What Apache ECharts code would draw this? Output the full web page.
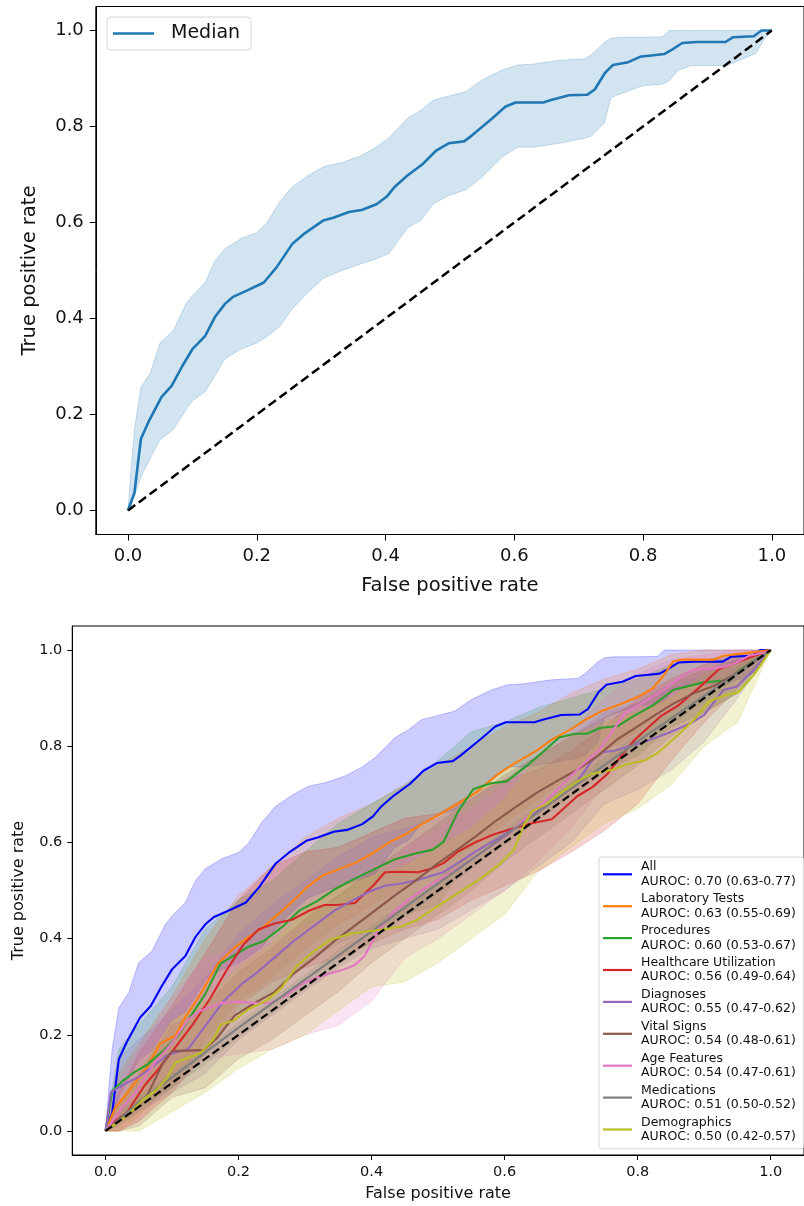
<!DOCTYPE html>
<html>
<head>
<meta charset="utf-8">
<script src="https://cdn.jsdelivr.net/npm/echarts@6/dist/echarts.min.js"></script>
<style>
html,body{margin:0;padding:0;background:#fff;}
#chart{width:804px;height:1206px;}
</style>
</head>
<body>
<div id="chart"></div>
<script>
// ---------- DATA ----------
const tickValues = [0, 0.2, 0.4, 0.6, 0.8, 1.0];

const categories = ['All', 'Laboratory Tests', 'Procedures', 'Healthcare Utilization', 'Diagnoses',
  'Vital Signs', 'Age Features', 'Medications', 'Demographics'];
const aurocLabels = ['AUROC: 0.70 (0.63-0.77)', 'AUROC: 0.63 (0.55-0.69)', 'AUROC: 0.60 (0.53-0.67)',
  'AUROC: 0.56 (0.49-0.64)', 'AUROC: 0.55 (0.47-0.62)', 'AUROC: 0.54 (0.48-0.61)',
  'AUROC: 0.54 (0.47-0.61)', 'AUROC: 0.51 (0.50-0.52)', 'AUROC: 0.50 (0.42-0.57)'];
const colors = ['#0000ff', '#ff7f0e', '#2ca02c', '#d62728', '#9467bd', '#8c564b', '#e377c2', '#7f7f7f', '#bcbd22'];

// Median (All) ROC curve
const medianX = [0,0.01,0.02,0.032,0.052,0.068,0.084,0.10,0.12,0.135,0.151,0.163,0.183,0.211,0.231,0.255,0.275,0.303,0.319,0.343,0.363,0.386,0.402,0.414,0.434,0.458,0.478,0.498,0.522,0.534,0.566,0.586,0.602,0.645,0.657,0.685,0.713,0.725,0.741,0.753,0.777,0.797,0.813,0.833,0.845,0.861,0.884,0.928,0.940,0.972,0.984,1];
const medianY = [0,0.037,0.149,0.185,0.236,0.26,0.30,0.336,0.364,0.403,0.431,0.445,0.457,0.475,0.507,0.555,0.578,0.604,0.610,0.622,0.626,0.638,0.654,0.674,0.698,0.722,0.749,0.765,0.769,0.781,0.817,0.841,0.850,0.850,0.855,0.865,0.866,0.877,0.912,0.928,0.934,0.946,0.948,0.951,0.960,0.974,0.976,0.976,0.986,0.988,1.0,1.0];
// Median band
const allBandX = [0,0.005,0.01,0.02,0.035,0.05,0.07,0.09,0.1,0.12,0.135,0.15,0.175,0.2,0.215,0.235,0.255,0.28,0.305,0.33,0.36,0.385,0.405,0.435,0.455,0.475,0.5,0.525,0.55,0.58,0.605,0.63,0.67,0.71,0.72,0.74,0.75,0.765,0.8,0.83,0.84,0.855,0.875,0.93,0.96,0.975,0.99,1];
const allBandHi = [0,0.09,0.17,0.256,0.288,0.35,0.374,0.43,0.447,0.475,0.52,0.545,0.566,0.579,0.598,0.642,0.674,0.698,0.717,0.724,0.738,0.756,0.776,0.818,0.834,0.855,0.864,0.873,0.897,0.917,0.928,0.930,0.938,0.941,0.950,0.975,0.984,0.986,0.986,0.987,1.0,1,1,1,1,1,1,1];
const allBandLo = [0,0.01,0.03,0.07,0.11,0.148,0.168,0.21,0.228,0.248,0.28,0.315,0.336,0.349,0.362,0.382,0.42,0.455,0.485,0.499,0.513,0.524,0.535,0.59,0.604,0.64,0.657,0.668,0.695,0.735,0.757,0.757,0.765,0.776,0.78,0.808,0.86,0.868,0.885,0.888,0.895,0.917,0.927,0.927,0.944,0.952,0.985,1];

// Feature group curves
const labX = [0,0.014,0.033,0.063,0.082,0.105,0.12,0.143,0.169,0.192,0.215,0.234,0.253,0.272,0.291,0.302,0.325,0.352,0.375,0.401,0.428,0.451,0.473,0.504,0.534,0.557,0.591,0.618,0.648,0.671,0.698,0.72,0.747,0.777,0.804,0.823,0.838,0.853,0.865,0.914,0.929,0.952,1];
const labY = [0,0.047,0.079,0.134,0.182,0.198,0.237,0.285,0.348,0.379,0.403,0.42,0.443,0.466,0.490,0.506,0.530,0.545,0.557,0.577,0.601,0.617,0.636,0.660,0.684,0.704,0.743,0.767,0.791,0.814,0.834,0.854,0.874,0.889,0.905,0.921,0.945,0.976,0.98,0.98,0.988,0.992,1];
const procX = [0,0.01,0.025,0.044,0.063,0.086,0.109,0.131,0.15,0.173,0.192,0.215,0.238,0.268,0.291,0.318,0.344,0.371,0.405,0.435,0.466,0.492,0.508,0.53,0.553,0.58,0.603,0.633,0.66,0.682,0.705,0.724,0.743,0.77,0.793,0.823,0.853,0.876,0.899,0.937,0.952,1];
const procY = [0,0.083,0.103,0.123,0.138,0.166,0.198,0.245,0.285,0.348,0.364,0.383,0.395,0.427,0.458,0.478,0.502,0.522,0.545,0.565,0.577,0.585,0.601,0.664,0.711,0.723,0.727,0.759,0.791,0.818,0.826,0.826,0.838,0.842,0.862,0.885,0.917,0.925,0.933,0.937,0.957,1];
const hcuX = [0,0.014,0.033,0.059,0.078,0.105,0.131,0.158,0.181,0.207,0.23,0.253,0.28,0.306,0.329,0.348,0.375,0.405,0.42,0.443,0.47,0.489,0.508,0.53,0.557,0.584,0.61,0.641,0.671,0.69,0.709,0.732,0.755,0.777,0.796,0.815,0.834,0.861,0.895,0.922,0.952,1];
const hcuY = [0,0.02,0.04,0.095,0.126,0.174,0.221,0.277,0.332,0.387,0.419,0.431,0.439,0.458,0.470,0.470,0.474,0.514,0.538,0.539,0.538,0.545,0.557,0.581,0.601,0.617,0.628,0.640,0.648,0.672,0.696,0.715,0.743,0.783,0.814,0.838,0.862,0.885,0.925,0.960,0.976,1];
const diagX = [0,0.008,0.025,0.048,0.071,0.093,0.124,0.147,0.177,0.207,0.23,0.257,0.283,0.314,0.344,0.375,0.397,0.42,0.443,0.47,0.489,0.508,0.534,0.561,0.591,0.618,0.648,0.679,0.709,0.732,0.747,0.766,0.806,0.845,0.88,0.9,0.929,0.949,0.974,1];
const diagY = [0,0.08,0.095,0.111,0.134,0.158,0.17,0.213,0.269,0.308,0.332,0.364,0.395,0.427,0.458,0.482,0.498,0.510,0.514,0.522,0.530,0.538,0.561,0.585,0.609,0.632,0.664,0.696,0.727,0.771,0.787,0.791,0.807,0.827,0.848,0.865,0.917,0.924,0.958,1];
const vitalX = [0,0.04,0.063,0.086,0.1,0.147,0.169,0.194,0.223,0.253,0.283,0.314,0.344,0.375,0.405,0.435,0.466,0.496,0.527,0.557,0.587,0.618,0.648,0.679,0.709,0.739,0.77,0.793,0.823,0.853,0.884,0.914,0.945,1];
const vitalY = [0,0.04,0.075,0.14,0.166,0.168,0.195,0.24,0.265,0.288,0.327,0.36,0.395,0.427,0.458,0.49,0.52,0.553,0.583,0.613,0.645,0.675,0.703,0.728,0.751,0.779,0.815,0.835,0.862,0.888,0.91,0.925,0.949,1];
const ageX = [0,0.026,0.045,0.075,0.1,0.124,0.139,0.174,0.198,0.223,0.248,0.273,0.297,0.322,0.357,0.375,0.39,0.409,0.431,0.455,0.481,0.511,0.542,0.572,0.603,0.633,0.663,0.686,0.709,0.742,0.781,0.831,0.88,0.929,0.945,0.967,0.994,1];
const ageY = [0,0.05,0.079,0.144,0.183,0.231,0.248,0.266,0.269,0.266,0.266,0.283,0.307,0.321,0.335,0.345,0.365,0.415,0.453,0.48,0.506,0.53,0.557,0.585,0.614,0.652,0.688,0.719,0.751,0.792,0.869,0.91,0.958,0.965,0.972,0.988,0.996,1];
const medX = [0,0.05,0.2,0.5,0.8,1];
const medY = [0,0.06,0.215,0.515,0.81,1];
const demoX = [0,0.015,0.033,0.055,0.078,0.093,0.105,0.12,0.143,0.162,0.173,0.192,0.215,0.243,0.265,0.287,0.31,0.337,0.371,0.41,0.445,0.466,0.489,0.511,0.534,0.561,0.591,0.614,0.629,0.641,0.663,0.686,0.709,0.732,0.762,0.785,0.812,0.831,0.853,0.884,0.907,0.929,0.952,0.975,1];
const demoY = [0,0.015,0.032,0.063,0.087,0.111,0.142,0.15,0.162,0.19,0.221,0.229,0.253,0.272,0.298,0.342,0.37,0.397,0.411,0.418,0.425,0.437,0.458,0.478,0.498,0.522,0.553,0.585,0.636,0.664,0.68,0.704,0.727,0.743,0.751,0.763,0.771,0.787,0.814,0.854,0.893,0.905,0.913,0.949,1];

// Confidence bands of the feature groups (sampled on a common FPR grid)
const bandX = [0,0.02,0.05,0.1,0.15,0.2,0.25,0.3,0.35,0.4,0.45,0.5,0.55,0.6,0.65,0.7,0.75,0.8,0.85,0.9,0.95,1];
const labHi  = [0,0.12,0.18,0.28,0.40,0.49,0.55,0.61,0.65,0.68,0.72,0.76,0.80,0.84,0.87,0.91,0.94,0.96,0.99,1,1,1];
const labLo  = [0,0,0.03,0.10,0.19,0.27,0.32,0.38,0.43,0.47,0.51,0.55,0.59,0.64,0.69,0.74,0.79,0.83,0.89,0.92,0.96,1];
const procHi = [0,0.17,0.22,0.30,0.42,0.48,0.52,0.58,0.64,0.68,0.72,0.77,0.83,0.85,0.88,0.90,0.92,0.94,0.97,0.98,0.99,1];
const procLo = [0,0.02,0.05,0.09,0.17,0.25,0.29,0.35,0.39,0.42,0.45,0.47,0.58,0.61,0.66,0.72,0.75,0.78,0.84,0.87,0.91,1];
const hcuHi  = [0,0.08,0.16,0.26,0.37,0.48,0.55,0.58,0.59,0.62,0.65,0.66,0.70,0.73,0.75,0.79,0.84,0.90,0.94,0.97,0.99,1];
const hcuLo  = [0,0,0.02,0.08,0.16,0.26,0.31,0.34,0.36,0.39,0.42,0.44,0.48,0.51,0.54,0.58,0.625,0.68,0.77,0.85,0.92,1];
const diagHi = [0,0.15,0.19,0.25,0.32,0.41,0.47,0.52,0.57,0.61,0.63,0.65,0.69,0.73,0.78,0.82,0.87,0.89,0.92,0.95,0.98,1];
const diagLo = [0,0.02,0.04,0.08,0.12,0.19,0.24,0.29,0.34,0.38,0.40,0.42,0.46,0.50,0.55,0.60,0.68,0.71,0.75,0.81,0.90,1];
const vitalHi = [0,0.06,0.12,0.22,0.26,0.33,0.38,0.44,0.49,0.54,0.59,0.64,0.69,0.74,0.78,0.82,0.86,0.89,0.93,0.96,0.98,1];
const vitalLo = [0,0,0.01,0.07,0.09,0.15,0.19,0.24,0.29,0.35,0.40,0.45,0.50,0.56,0.61,0.66,0.71,0.76,0.82,0.87,0.91,1];
const ageHi  = [0,0.10,0.17,0.28,0.36,0.38,0.39,0.43,0.45,0.50,0.59,0.63,0.67,0.72,0.77,0.83,0.90,0.95,0.98,0.99,1,1];
const ageLo  = [0,0,0.02,0.09,0.15,0.16,0.17,0.20,0.22,0.27,0.36,0.40,0.45,0.50,0.56,0.63,0.72,0.80,0.87,0.91,0.94,1];
const medHi  = [0,0.04,0.07,0.12,0.17,0.225,0.275,0.325,0.375,0.425,0.475,0.525,0.575,0.625,0.675,0.725,0.775,0.825,0.873,0.918,0.963,1];
const medLo  = [0,0.01,0.04,0.09,0.14,0.195,0.245,0.295,0.345,0.395,0.445,0.495,0.545,0.595,0.645,0.695,0.745,0.795,0.847,0.892,0.943,1];
const demoHi = [0,0.06,0.12,0.23,0.27,0.34,0.39,0.46,0.51,0.53,0.55,0.59,0.63,0.69,0.78,0.82,0.85,0.87,0.90,0.95,0.97,1];
const demoLo = [0,0,0,0.04,0.08,0.13,0.17,0.20,0.25,0.30,0.31,0.35,0.40,0.45,0.54,0.59,0.64,0.67,0.72,0.80,0.85,1];

const diagonal = [[0, 0], [1, 1]];

// ---------- BUILD ----------
const curves = [
  [medianX, medianY, allBandX, allBandLo, allBandHi],
  [labX, labY, bandX, labLo, labHi],
  [procX, procY, bandX, procLo, procHi],
  [hcuX, hcuY, bandX, hcuLo, hcuHi],
  [diagX, diagY, bandX, diagLo, diagHi],
  [vitalX, vitalY, bandX, vitalLo, vitalHi],
  [ageX, ageY, bandX, ageLo, ageHi],
  [medX, medY, bandX, medLo, medHi],
  [demoX, demoY, bandX, demoLo, demoHi]
];

const FONT = 'DejaVu Sans';
const pair = (xs, ys) => xs.map((x, i) => [x, ys[i]]);

function hexA(hex, a) {
  const n = parseInt(hex.slice(1), 16);
  return 'rgba(' + ((n >> 16) & 255) + ',' + ((n >> 8) & 255) + ',' + (n & 255) + ',' + a + ')';
}

// filled band drawn as one polygon through the axis scales
function band(id, xs, lo, hi, color, axis) {
  return {
    type: 'custom', name: '_band_' + id, xAxisIndex: axis, yAxisIndex: axis, silent: true, z: 2,
    data: xs.map((x, i) => [x, lo[i], hi[i]]),
    encode: { x: 0, y: [1, 2] },
    renderItem: function (params, api) {
      if (params.dataIndex !== 0) return null;
      const pts = [];
      for (let i = 0; i < xs.length; i++) pts.push(api.coord([xs[i], hi[i]]));
      for (let i = xs.length - 1; i >= 0; i--) pts.push(api.coord([xs[i], lo[i]]));
      return {
        type: 'polygon',
        shape: { points: pts },
        style: { fill: hexA(color, 0.2), stroke: hexA(color, 0.22), lineWidth: 1 }
      };
    }
  };
}

const series = [];
// top panel
series.push(band('top', allBandX, allBandLo, allBandHi, '#1f77b4', 0));
series.push({
  type: 'line', name: 'Median', xAxisIndex: 0, yAxisIndex: 0, data: pair(medianX, medianY),
  symbol: 'none', z: 3, color: '#1f77b4', lineStyle: { width: 2.6, color: '#1f77b4', join: 'round' }
});
series.push({
  type: 'line', name: '_diag0', xAxisIndex: 0, yAxisIndex: 0, data: diagonal, symbol: 'none', z: 4, silent: true,
  lineStyle: { width: 2.5, color: '#000', type: [9, 4.5] }
});
// bottom panel
curves.forEach((c, i) => {
  series.push(band('b' + i, c[2], c[3], c[4], colors[i], 1));
});
curves.forEach((c, i) => {
  series.push({
    type: 'line', name: categories[i], xAxisIndex: 1, yAxisIndex: 1, data: pair(c[0], c[1]),
    symbol: 'none', z: 3, color: colors[i], lineStyle: { width: 2.1, color: colors[i], join: 'round' }
  });
});
series.push({
  type: 'line', name: '_diag1', xAxisIndex: 1, yAxisIndex: 1, data: diagonal, symbol: 'none', z: 4, silent: true,
  lineStyle: { width: 2.2, color: '#000', type: [8, 4] }
});

function xAx(grid, fs, margin, nameGap, nfs) {
  return {
    type: 'value', gridIndex: grid, min: -0.05, max: 1.05,
    name: 'False positive rate', nameLocation: 'middle', nameGap: nameGap,
    nameTextStyle: { fontFamily: FONT, fontSize: nfs, color: '#111' },
    axisLine: { show: true, onZero: false, lineStyle: { color: '#000', width: 1 } },
    axisTick: { show: true, length: fs > 16 ? 6 : 5, customValues: tickValues, lineStyle: { color: '#000' } },
    axisLabel: { customValues: tickValues, margin: margin, fontFamily: FONT, fontSize: fs, color: '#111',
      formatter: v => v.toFixed(1) },
    splitLine: { show: false }
  };
}
function yAx(grid, fs, margin, nameGap, nfs) {
  return {
    type: 'value', gridIndex: grid, min: -0.05, max: 1.05,
    name: 'True positive rate', nameLocation: 'middle', nameGap: nameGap, nameRotate: 90,
    nameTextStyle: { fontFamily: FONT, fontSize: nfs, color: '#111' },
    axisLine: { show: true, onZero: false, lineStyle: { color: '#000', width: 1 } },
    axisTick: { show: true, length: fs > 16 ? 6 : 5, customValues: tickValues, lineStyle: { color: '#000' } },
    axisLabel: { customValues: tickValues, margin: margin, fontFamily: FONT, fontSize: fs, color: '#111',
      formatter: v => v.toFixed(1) },
    splitLine: { show: false }
  };
}

const option = {
  animation: false,
  backgroundColor: '#fff',
  grid: [
    { left: 95.8, top: 6.5, width: 708.4, height: 528, show: true, borderColor: '#000', borderWidth: 1, backgroundColor: 'transparent' },
    { left: 72.25, top: 626, width: 742.5, height: 529, show: true, borderColor: '#000', borderWidth: 1, backgroundColor: 'transparent' }
  ],
  xAxis: [xAx(0, 18, 13, 41, 19.5), xAx(1, 14.5, 10, 31, 16)],
  yAxis: [yAx(0, 18, 12, 56, 19.5), yAx(1, 14.5, 10, 45, 16)],
  legend: [
    {
      data: ['Median'], left: 107, top: 17, orient: 'vertical', selectedMode: false,
      icon: 'rect', itemWidth: 41, itemHeight: 2.6,
      padding: [7, 11, 7, 6],
      backgroundColor: 'rgba(255,255,255,0.8)', borderColor: '#d6d6d6', borderWidth: 1, borderRadius: 4,
      textStyle: { fontFamily: FONT, fontSize: 19, color: '#111', padding: [0, 0, 0, 12] }
    },
    {
      data: categories, left: 599, top: 857, orient: 'vertical', selectedMode: false,
      icon: 'rect', itemWidth: 29, itemHeight: 2.2, itemGap: 3.3,
      padding: [3, 8, 5, 4],
      backgroundColor: 'rgba(255,255,255,0.8)', borderColor: '#d6d6d6', borderWidth: 1, borderRadius: 3,
      formatter: name => name + '\n' + aurocLabels[categories.indexOf(name)],
      textStyle: { fontFamily: FONT, fontSize: 12.5, lineHeight: 14.3, color: '#111', padding: [0, 0, 0, 4] }
    }
  ],
  series: series
};

const chart = echarts.init(document.getElementById('chart'), null, { renderer: 'canvas' });
chart.setOption(option);
</script>
</body>
</html>
